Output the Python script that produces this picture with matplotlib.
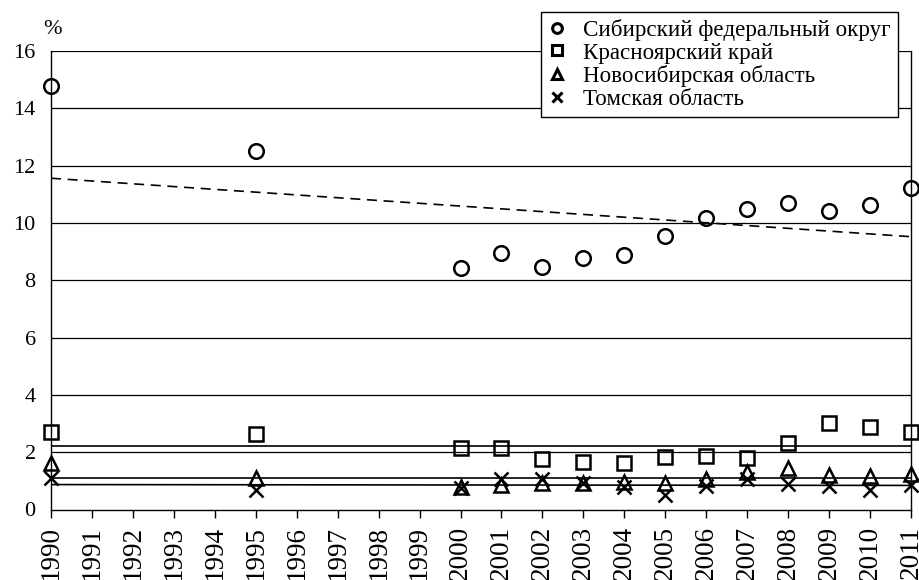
import matplotlib
matplotlib.use("Agg")
import matplotlib.pyplot as plt
from matplotlib.lines import Line2D

plt.rcParams['font.family'] = ['Liberation Serif', 'DejaVu Serif']

years = [1990, 1995, 2000, 2001, 2002, 2003, 2004, 2005, 2006, 2007, 2008, 2009, 2010, 2011]
sfo = [14.78, 12.52, 8.44, 8.96, 8.47, 8.79, 8.87, 9.53, 10.16, 10.49, 10.71, 10.43, 10.63, 11.21]
krasnoyarsk = [2.72, 2.64, 2.16, 2.16, 1.75, 1.67, 1.63, 1.84, 1.87, 1.79, 2.33, 3.01, 2.89, 2.72]
novosibirsk = [1.61, 1.10, 0.80, 0.86, 0.91, 0.94, 0.97, 0.91, 1.05, 1.32, 1.44, 1.20, 1.17, 1.23]
tomsk = [1.09, 0.68, 0.74, 1.05, 1.05, 0.94, 0.80, 0.51, 0.82, 1.05, 0.88, 0.82, 0.68, 0.86]

trend_x = [1990, 2011]
sfo_trend = [11.56, 9.52]
krasnoyarsk_trend = [2.21, 2.21]
novosibirsk_trend = [1.10, 1.10]
tomsk_trend = [0.87, 0.84]

labels = ["Сибирский федеральный округ", "Красноярский край",
          "Новосибирская область", "Томская область"]
xtick_labels = [str(y) for y in range(1990, 2012)]
yticks = [0, 2, 4, 6, 8, 10, 12, 14, 16]

fig = plt.figure(figsize=(9.2, 5.8), dpi=100)
ax = fig.add_axes([51/920, 1-509.5/580, (911-51)/920, (509.5-51)/580])

for yv in yticks[1:]:
    ax.axhline(yv, color='black', lw=0.9, zorder=1)

ax.plot(trend_x, sfo_trend, color='black', lw=1.2, ls=(0, (6, 4)), zorder=2)
for tr in (krasnoyarsk_trend, novosibirsk_trend, tomsk_trend):
    ax.plot(trend_x, tr, color='black', lw=1.2, zorder=2)

ms = 10.5
mew = 1.8
ax.plot(years, sfo, ls='none', marker='o', ms=ms, mfc='none', mec='black', mew=mew, clip_on=False, zorder=3)
ax.plot(years, krasnoyarsk, ls='none', marker='s', ms=ms-0.5, mfc='none', mec='black', mew=mew, clip_on=False, zorder=3)
ax.plot(years, novosibirsk, ls='none', marker='^', ms=ms, mfc='none', mec='black', mew=mew, clip_on=False, zorder=3)
ax.plot(years, tomsk, ls='none', marker='x', ms=ms, mfc='none', mec='black', mew=mew, clip_on=False, zorder=3)

ax.set_xlim(1990, 2011)
ax.set_ylim(0, 16)
ax.set_xticks(range(1990, 2012))
ax.set_xticklabels(xtick_labels, rotation=90, fontsize=19.5)
ax.set_yticks(yticks)
ax.set_yticklabels([str(v) for v in yticks], fontsize=16)
ax.tick_params(axis='y', length=0, pad=11)
ax.tick_params(axis='x', direction='out', length=5.5, width=1, pad=6.5)
for s in ax.spines.values():
    s.set_linewidth(1.0)
    s.set_color('black')
ax.spines['top'].set_visible(False)

fig.text(53/920, 1-30/580, "%", ha='center', va='center', fontsize=16)

hl = [Line2D([], [], ls='none', marker=m, ms=7, mfc='none', mec='black', mew=2.2) for m in ('o', 's', '^', 'x')]
leg = fig.legend(hl, labels, loc='upper right', bbox_to_anchor=(898/920, 1-12/580),
                 frameon=True, fancybox=False, framealpha=1, edgecolor='black',
                 fontsize=16.6, handlelength=0.8, handletextpad=0.75, labelspacing=0.065,
                 borderpad=0.3, borderaxespad=0)
leg.get_frame().set_linewidth(1.0)

fig.savefig("out.png", dpi=100)
